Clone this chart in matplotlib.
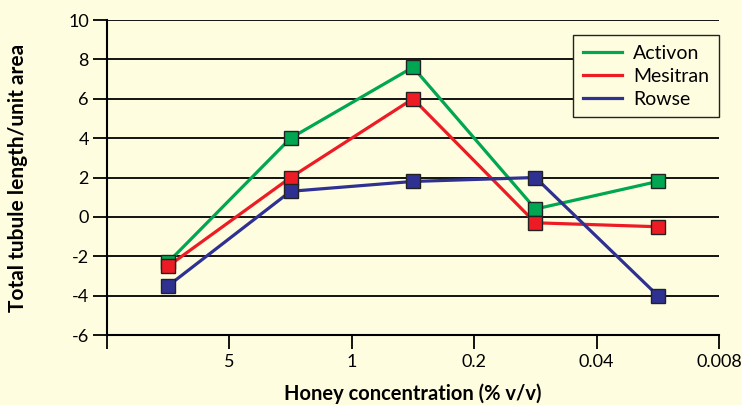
import matplotlib.pyplot as plt

conc_labels = ["", "5", "1", "0.2", "0.04", "0.008"]
activon = [-2.3, 4.0, 7.6, 0.4, 1.8]
mesitran = [-2.5, 2.0, 6.0, -0.3, -0.5]
rowse = [-3.5, 1.3, 1.8, 2.0, -4.0]
y_ticks = [-6, -4, -2, 0, 2, 4, 6, 8, 10]

bg = "#fffde0"
plt.rcParams['font.family'] = ['Lato', 'DejaVu Sans']
plt.rcParams['axes.unicode_minus'] = False

fig = plt.figure(figsize=(7.42, 4.05), dpi=100, facecolor=bg)
ax = fig.add_axes([0.1442, 0.1728, 0.8248, 0.7778], facecolor=bg)

xs = [i + 0.5 for i in range(len(activon))]
series = [("Activon", activon, "#00a651"),
          ("Mesitran", mesitran, "#ed1c24"),
          ("Rowse", rowse, "#2e3192")]
for name, vals, col in series:
    ax.plot(xs, vals, color=col, lw=2.3, zorder=3)
    ax.plot(xs, vals, ls="none", marker="s", ms=10, mfc=col,
            mec="#222222", mew=1.0, zorder=4)

# legend with line-only handles
handles = [plt.Line2D([], [], color=c, lw=2.3) for _, _, c in series]
leg = ax.legend(handles, [s[0] for s in series], loc="upper right",
                bbox_to_anchor=(1.0, 0.952), borderaxespad=0,
                fontsize=14, handlelength=2.0, handletextpad=0.6,
                labelspacing=0.3, fancybox=False, framealpha=1,
                facecolor=bg, edgecolor="#222222", borderpad=0.5)
leg.get_frame().set_linewidth(1.0)

for y in y_ticks:
    ax.axhline(y, color="black", lw=1.3, zorder=1)

ax.set_xlim(0, 5)
ax.set_ylim(-6, 10)
ax.set_xticks(range(len(conc_labels)))
ax.set_xticklabels(conc_labels)
ax.set_yticks(y_ticks)
ax.tick_params(axis="both", labelsize=13, width=1.3, color="black")
ax.tick_params(axis="y", length=10, pad=3)
ax.tick_params(axis="x", length=10, pad=4)

for s in ["top", "right"]:
    ax.spines[s].set_visible(False)
for s in ["left", "bottom"]:
    ax.spines[s].set_linewidth(1.5)

ax.set_xlabel("Honey concentration (% v/v)", fontsize=14.5, fontweight="bold", labelpad=9)
ax.set_ylabel("Total tubule length/unit area", fontsize=15, fontweight="bold", labelpad=29)

plt.savefig("out.png", dpi=100, facecolor=bg)
